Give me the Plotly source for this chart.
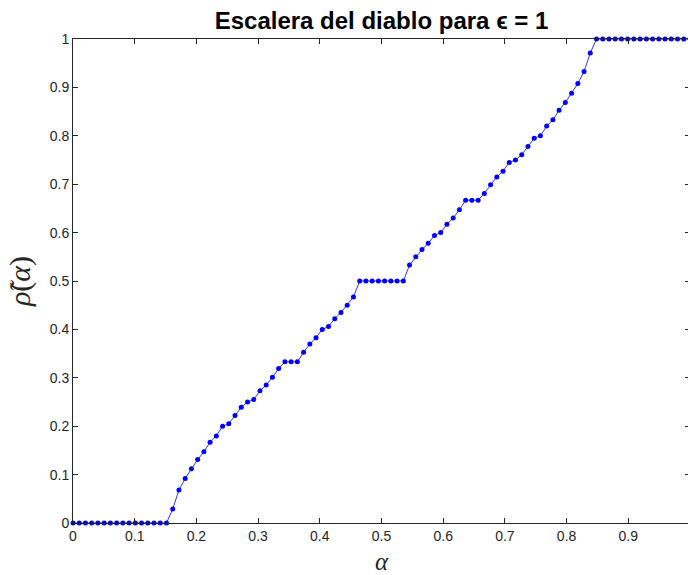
import numpy as np
import plotly.graph_objects as go

# Sampling grid of the parameter alpha (100 samples on [0, 1])
alpha = np.linspace(0.0, 1.0, 100)

# Rotation number rho~(alpha) for epsilon = 1
rho = [
    0, 0, 0, 0, 0, 0, 0, 0, 0, 0,
    0, 0, 0, 0, 0, 0, 0.029, 0.068, 0.092, 0.112,
    0.131, 0.147, 0.167, 0.180, 0.200, 0.205, 0.222, 0.239, 0.250, 0.255,
    0.273, 0.285, 0.301, 0.319, 0.333, 0.333, 0.333, 0.353, 0.370, 0.383,
    0.400, 0.406, 0.422, 0.435, 0.450, 0.467, 0.5, 0.5, 0.5, 0.5,
    0.5, 0.5, 0.5, 0.5, 0.533, 0.550, 0.565, 0.578, 0.594, 0.600,
    0.617, 0.630, 0.647, 0.667, 0.667, 0.667, 0.681, 0.699, 0.715, 0.727,
    0.745, 0.750, 0.761, 0.778, 0.795, 0.800, 0.820, 0.833, 0.853, 0.869,
    0.888, 0.908, 0.933, 0.971, 1, 1, 1, 1, 1, 1,
    1, 1, 1, 1, 1, 1, 1, 1, 1, 1,
]

tick_vals = [0, 0.1, 0.2, 0.3, 0.4, 0.5, 0.6, 0.7, 0.8, 0.9, 1]
tick_text = ["0", "0.1", "0.2", "0.3", "0.4", "0.5", "0.6", "0.7", "0.8", "0.9", "1"]

axis_color = "#262626"
font_sans = "Liberation Sans, Arial, sans-serif"
font_serif = "Liberation Serif, DejaVu Serif, serif"

fig = go.Figure()
fig.add_trace(go.Scatter(
    x=alpha,
    y=rho,
    mode="lines+markers",
    line=dict(color="#0000FF", width=0.8),
    marker=dict(color="#0000FF", size=5, symbol="circle"),
    showlegend=False,
    cliponaxis=False,
))

axis_common = dict(
    showline=True,
    linecolor=axis_color,
    linewidth=1,
    mirror="ticks",
    ticks="inside",
    ticklen=5,
    tickwidth=1,
    tickcolor=axis_color,
    showgrid=False,
    zeroline=False,
    tickvals=tick_vals,
    ticktext=tick_text,
    tickfont=dict(family=font_sans, size=14, color=axis_color),
)

fig.update_xaxes(
    range=[0, 1],
    title=dict(text="<i>α</i>", font=dict(family=font_serif, size=25, color=axis_color), standoff=10),
    **axis_common,
)
fig.update_yaxes(
    range=[0, 1],
    title=dict(text="<i>ρ̃</i>(<i>α</i>)", font=dict(family=font_serif, size=30, color=axis_color), standoff=10),
    **axis_common,
)

fig.update_layout(
    width=692,
    height=575,
    margin=dict(l=73, r=2, t=39, b=52),
    paper_bgcolor="white",
    plot_bgcolor="white",
    title=dict(
        text="<b>Escalera del diablo para ϵ = 1</b>",
        font=dict(family=font_sans, size=24, color="#000000"),
        x=0.5,
        xref="paper",
        xanchor="center",
        y=1,
        yref="paper",
        yanchor="bottom",
        pad=dict(b=10),
    ),
)

fig.write_html(
    "out.html",
    post_script="document.documentElement.style.overflow='hidden';document.body.style.overflow='hidden';",
)
